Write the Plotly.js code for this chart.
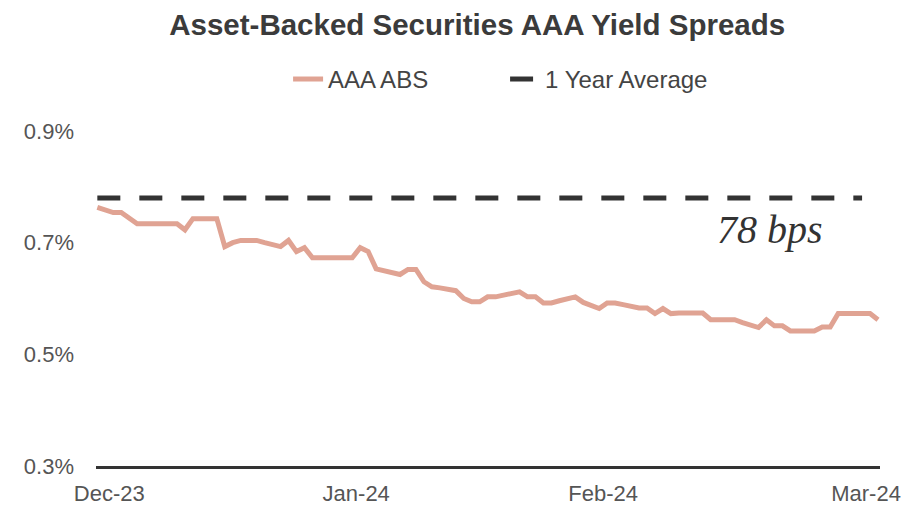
<!DOCTYPE html>
<html>
<head>
<meta charset="utf-8">
<script src="https://cdn.plot.ly/plotly-3.0.1.min.js"></script>
<style>html,body{margin:0;padding:0;background:#fff;}#chart{width:923px;height:509px;}</style>
</head>
<body>
<div id="chart"></div>
<script>
// Daily dates (Nov 29 2023 - Mar 6 2024)
const dates = [
"2023-11-29","2023-11-30",
"2023-12-01","2023-12-02","2023-12-03","2023-12-04","2023-12-05","2023-12-06","2023-12-07","2023-12-08","2023-12-09","2023-12-10",
"2023-12-11","2023-12-12","2023-12-13","2023-12-14","2023-12-15","2023-12-16","2023-12-17","2023-12-18","2023-12-19","2023-12-20",
"2023-12-21","2023-12-22","2023-12-23","2023-12-24","2023-12-25","2023-12-26","2023-12-27","2023-12-28","2023-12-29","2023-12-30","2023-12-31",
"2024-01-01","2024-01-02","2024-01-03","2024-01-04","2024-01-05","2024-01-06","2024-01-07","2024-01-08","2024-01-09","2024-01-10",
"2024-01-11","2024-01-12","2024-01-13","2024-01-14","2024-01-15","2024-01-16","2024-01-17","2024-01-18","2024-01-19","2024-01-20",
"2024-01-21","2024-01-22","2024-01-23","2024-01-24","2024-01-25","2024-01-26","2024-01-27","2024-01-28","2024-01-29","2024-01-30","2024-01-31",
"2024-02-01","2024-02-02","2024-02-03","2024-02-04","2024-02-05","2024-02-06","2024-02-07","2024-02-08","2024-02-09","2024-02-10",
"2024-02-11","2024-02-12","2024-02-13","2024-02-14","2024-02-15","2024-02-16","2024-02-17","2024-02-18","2024-02-19","2024-02-20",
"2024-02-21","2024-02-22","2024-02-23","2024-02-24","2024-02-25","2024-02-26","2024-02-27","2024-02-28","2024-02-29",
"2024-03-01","2024-03-02","2024-03-03","2024-03-04","2024-03-05","2024-03-06"
];
// AAA ABS spread (%)
const absSpread = [
0.763,0.758,
0.754,0.754,0.744,0.734,0.734,0.734,0.734,0.734,0.734,0.723,
0.743,0.743,0.743,0.743,0.693,0.700,0.704,0.704,0.704,0.700,
0.697,0.693,0.704,0.684,0.691,0.673,0.673,0.673,0.673,0.673,0.673,
0.691,0.684,0.653,0.650,0.647,0.643,0.652,0.652,0.630,0.621,
0.619,0.616,0.614,0.600,0.594,0.594,0.603,0.603,0.606,0.609,
0.612,0.603,0.603,0.592,0.592,0.596,0.599,0.603,0.593,0.587,0.582,
0.592,0.592,0.589,0.586,0.583,0.583,0.573,0.582,0.573,0.574,
0.574,0.574,0.574,0.562,0.562,0.562,0.562,0.557,0.553,0.548,
0.562,0.551,0.551,0.542,0.542,0.542,0.542,0.549,0.549,
0.573,0.573,0.573,0.573,0.573,0.562
];
// 1 year average
const avgDates = ["2023-11-29","2024-03-04"];
const avgValues = [0.78, 0.78];
const avgLabel = "78 bps";

const seriesNames = ["AAA ABS","1 Year Average"];
const yTicks = [0.3,0.5,0.7,0.9];
const yTickText = ["0.3%","0.5%","0.7%","0.9%"];
const xTicks = ["2023-11-30 12:00","2023-12-31 12:00","2024-01-31 12:00","2024-03-04 12:00"];
const xTickText = ["Dec-23","Jan-24","Feb-24","Mar-24"];

const traces = [
  {x: dates, y: absSpread, name: seriesNames[0], type: "scatter", mode: "lines",
   line: {color: "#E0A393", width: 5}},
  {x: avgDates, y: avgValues, name: seriesNames[1], type: "scatter", mode: "lines",
   line: {color: "#333333", width: 5, dash: "23px,19px"}}
];

const layout = {
  width: 923, height: 509,
  paper_bgcolor: "#ffffff", plot_bgcolor: "#ffffff",
  margin: {l: 96, r: 43, t: 131, b: 43},
  font: {family: "Liberation Sans, Arial, sans-serif", color: "#444444"},
  title: {text: "<b>Asset-Backed Securities AAA Yield Spreads</b>",
          font: {size: 29.5, color: "#3b3b3b", family: "Liberation Sans, Arial, sans-serif"},
          x: 0.517, xref: "container", xanchor: "center", y: 0.951, yref: "container", yanchor: "middle"},
  showlegend: true,
  legend: {orientation: "h", x: 0.245, xanchor: "left", y: 1.154, yanchor: "middle",
           entrywidth: 172, entrywidthmode: "pixels",
           font: {size: 24, color: "#444444"}, bgcolor: "rgba(0,0,0,0)"},
  xaxis: {type: "date", range: ["2023-11-28 20:00", "2024-03-06 06:00"],
          tickmode: "array", tickvals: xTicks, ticktext: xTickText,
          showgrid: false, zeroline: false, showline: true, linecolor: "#333333", linewidth: 3,
          ticks: "", ticklabelstandoff: 6,
          tickfont: {size: 22, color: "#555555"}},
  yaxis: {range: [0.3, 0.9], tickmode: "array", tickvals: yTicks, ticktext: yTickText,
          showgrid: false, zeroline: false, showline: false, ticks: "",
          ticklabelstandoff: 21, tickfont: {size: 22, color: "#555555"}},
  annotations: [
    {x: "2024-02-21 12:00", y: 0.724, xref: "x", yref: "y", text: "<i>" + avgLabel + "</i>", showarrow: false,
     font: {family: "Liberation Serif, DejaVu Serif, serif", size: 40, color: "#333333"}}
  ]
};

Plotly.newPlot("chart", traces, layout, {displayModeBar: false, staticPlot: true});
</script>
</body>
</html>
